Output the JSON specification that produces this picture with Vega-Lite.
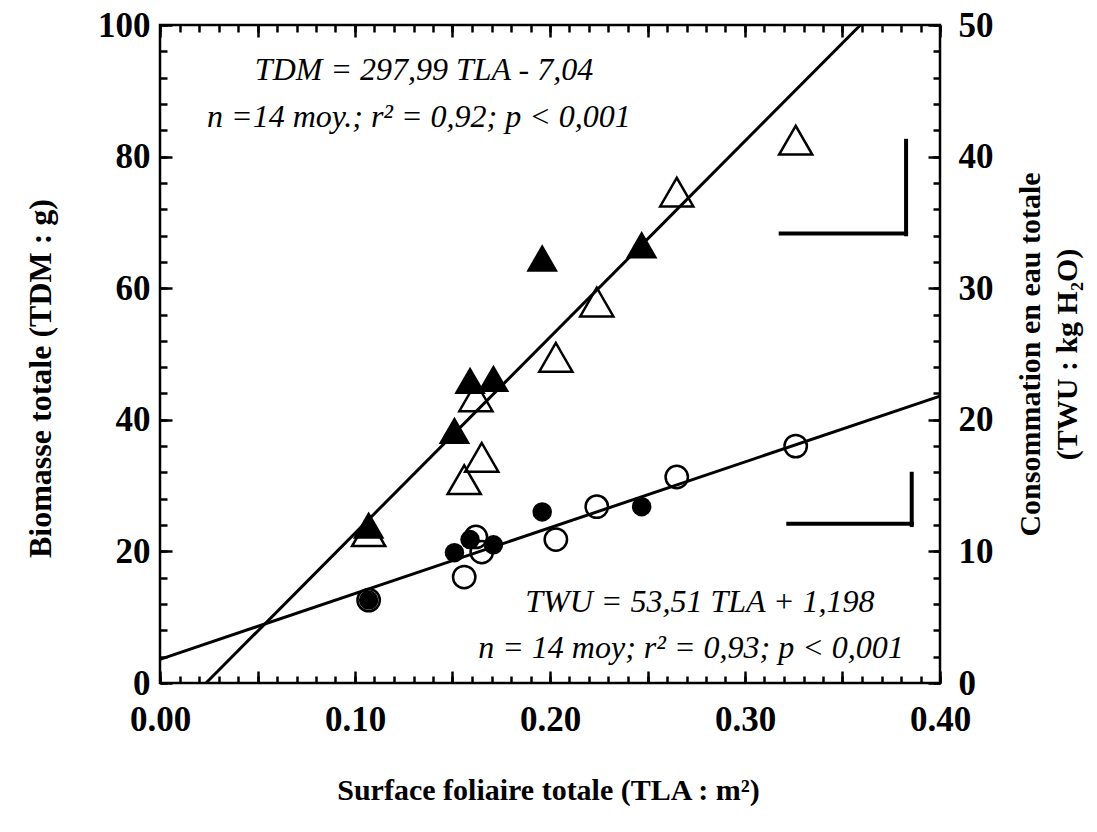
{
  "$schema": "https://vega.github.io/schema/vega-lite/v6.json",
  "width": 780,
  "height": 658,
  "autosize": "none",
  "padding": {"left": 160, "top": 25, "right": 157, "bottom": 149},
  "background": "white",
  "config": {
    "view": {"stroke": "black", "strokeWidth": 2.5},
    "axis": {
      "grid": false,
      "domain": false,
      "ticks": true,
      "labelFont": "Liberation Serif",
      "titleFont": "Liberation Serif",
      "labelFontWeight": "bold",
      "titleFontWeight": "bold",
      "labelColor": "black",
      "titleColor": "black",
      "tickColor": "black",
      "tickOpacity": 1,
      "tickWidth": 2.5,
      "labelFontSize": 35,
      "titleFontSize": 32,
      "labelFlush": false
    }
  },
  "datasets": {
    "points": [
      {"TLA": 0.107, "TDM": 24.0, "TWU": 6.3, "traitement": "A"},
      {"TLA": 0.151, "TDM": 38.4, "TWU": 9.9, "traitement": "A"},
      {"TLA": 0.159, "TDM": 46.0, "TWU": 10.9, "traitement": "A"},
      {"TLA": 0.171, "TDM": 46.3, "TWU": 10.5, "traitement": "A"},
      {"TLA": 0.196, "TDM": 64.6, "TWU": 13.0, "traitement": "A"},
      {"TLA": 0.247, "TDM": 66.6, "TWU": 13.4, "traitement": "A"},
      {"TLA": 0.107, "TDM": 23.0, "TWU": 6.3, "traitement": "B"},
      {"TLA": 0.156, "TDM": 30.9, "TWU": 8.05, "traitement": "B"},
      {"TLA": 0.162, "TDM": 43.5, "TWU": 11.1, "traitement": "B"},
      {"TLA": 0.165, "TDM": 34.3, "TWU": 9.95, "traitement": "B"},
      {"TLA": 0.203, "TDM": 49.5, "TWU": 10.9, "traitement": "B"},
      {"TLA": 0.224, "TDM": 57.9, "TWU": 13.4, "traitement": "B"},
      {"TLA": 0.265, "TDM": 74.6, "TWU": 15.65, "traitement": "B"},
      {"TLA": 0.326, "TDM": 82.5, "TWU": 18.0, "traitement": "B"}
    ],
    "droite_tdm": [{"TLA": 0.0236, "TDM": 0}, {"TLA": 0.3592, "TDM": 100}],
    "droite_twu": [{"TLA": 0.0, "TWU": 1.8}, {"TLA": 0.4, "TWU": 21.8}],
    "barres_tdm": [
      {"TLA": 0.3183, "TLA2": 0.3826, "TDM": 68.3, "TDM2": 68.3},
      {"TLA": 0.3826, "TLA2": 0.3826, "TDM": 68.2, "TDM2": 82.4}
    ],
    "barres_twu": [
      {"TLA": 0.3222, "TLA2": 0.3855, "TWU": 12.1, "TWU2": 12.1},
      {"TLA": 0.3855, "TLA2": 0.3855, "TWU": 12.0, "TWU2": 15.9}
    ],
    "textes": [
      {"label": "TDM = 297,99 TLA - 7,04", "TLA": 0.1354, "TDM": 93.2},
      {"label": "n =14 moy.; r² = 0,92; p < 0,001", "TLA": 0.1328, "TDM": 86.0},
      {"label": "TWU = 53,51 TLA + 1,198", "TLA": 0.2769, "TDM": 12.3},
      {"label": "n = 14 moy; r² = 0,93; p < 0,001", "TLA": 0.2723, "TDM": 5.3}
    ]
  },
  "layer": [
    {
      "data": {"name": "droite_tdm"},
      "mark": {"type": "line", "color": "black", "strokeWidth": 3},
      "encoding": {
        "x": {"field": "TLA", "type": "quantitative", "scale": {"domain": [0, 0.4], "nice": false, "zero": false},
          "axis": {"orient": "bottom", "values": [0,0.01,0.02,0.03,0.04,0.05,0.06,0.07,0.08,0.09,0.1,0.11,0.12,0.13,0.14,0.15,0.16,0.17,0.18,0.19,0.2,0.21,0.22,0.23,0.24,0.25,0.26,0.27,0.28,0.29,0.3,0.31,0.32,0.33,0.34,0.35,0.36,0.37,0.38,0.39,0.4], "offset": -7, "tickSize": 7, "labels": false, "title": null}},
        "y": {"field": "TDM", "type": "quantitative", "scale": {"domain": [0, 100], "nice": false},
          "axis": {"orient": "left", "values": [0,4,8,12,16,20,24,28,32,36,40,44,48,52,56,60,64,68,72,76,80,84,88,92,96,100], "offset": -7, "tickSize": 7, "labels": false, "title": null}}
      }
    },
    {
      "data": {"name": "points"},
      "transform": [{"filter": "datum.traitement == 'B'"}],
      "mark": {"type": "point", "shape": "triangle-up", "filled": false, "stroke": "black", "strokeWidth": 2.5, "size": 1100, "opacity": 1},
      "encoding": {
        "x": {"field": "TLA", "type": "quantitative", "scale": {"domain": [0, 0.4], "nice": false, "zero": false},
          "axis": {"orient": "bottom", "values": [0,0.05,0.1,0.15,0.2,0.25,0.3,0.35,0.4], "offset": -12, "tickSize": 12,
            "labelExpr": "abs(round(datum.value*100) % 10) == 0 ? format(datum.value, '.2f') : ''",
            "labelPadding": 19, "labelBaseline": "top",
            "title": "Surface foliaire totale (TLA : m²)", "titleFontSize": 30, "titleX": 388, "titleY": 119, "titleBaseline": "middle", "titleAlign": "center"}},
        "y": {"field": "TDM", "type": "quantitative", "scale": {"domain": [0, 100], "nice": false},
          "axis": {"orient": "left", "values": [0,20,40,60,80,100], "offset": -12, "tickSize": 12, "labelPadding": 10,
            "title": "Biomasse totale (TDM : g)", "titleX": -132, "titleY": 353, "titleAngle": 270, "titleBaseline": "middle", "titleAlign": "center"}}
      }
    },
    {
      "data": {"name": "points"},
      "transform": [{"filter": "datum.traitement == 'A'"}],
      "mark": {"type": "point", "shape": "triangle-up", "filled": true, "fill": "black", "strokeWidth": 0, "size": 1000, "opacity": 1},
      "encoding": {
        "x": {"field": "TLA", "type": "quantitative", "scale": {"domain": [0, 0.4], "nice": false, "zero": false}, "axis": null},
        "y": {"field": "TDM", "type": "quantitative", "scale": {"domain": [0, 100], "nice": false}, "axis": null}
      }
    },
    {
      "data": {"name": "barres_tdm"},
      "mark": {"type": "rule", "color": "black", "strokeWidth": 4, "strokeCap": "square"},
      "encoding": {
        "x": {"field": "TLA", "type": "quantitative", "scale": {"domain": [0, 0.4], "nice": false, "zero": false}, "axis": null},
        "x2": {"field": "TLA2"},
        "y": {"field": "TDM", "type": "quantitative", "scale": {"domain": [0, 100], "nice": false}, "axis": null},
        "y2": {"field": "TDM2"}
      }
    },
    {
      "data": {"name": "textes"},
      "mark": {"type": "text", "font": "Liberation Serif", "fontStyle": "italic", "fontSize": 32, "align": "center", "baseline": "middle", "color": "black"},
      "encoding": {
        "text": {"field": "label"},
        "x": {"field": "TLA", "type": "quantitative", "scale": {"domain": [0, 0.4], "nice": false, "zero": false}, "axis": null},
        "y": {"field": "TDM", "type": "quantitative", "scale": {"domain": [0, 100], "nice": false}, "axis": null}
      }
    },
    {
      "data": {"name": "droite_twu"},
      "mark": {"type": "line", "color": "black", "strokeWidth": 3},
      "encoding": {
        "x": {"field": "TLA", "type": "quantitative", "scale": {"domain": [0, 0.4], "nice": false, "zero": false},
          "axis": {"orient": "top", "values": [0,0.01,0.02,0.03,0.04,0.05,0.06,0.07,0.08,0.09,0.1,0.11,0.12,0.13,0.14,0.15,0.16,0.17,0.18,0.19,0.2,0.21,0.22,0.23,0.24,0.25,0.26,0.27,0.28,0.29,0.3,0.31,0.32,0.33,0.34,0.35,0.36,0.37,0.38,0.39,0.4], "offset": -7, "tickSize": 7, "labels": false, "title": null}},
        "y": {"field": "TWU", "type": "quantitative", "scale": {"domain": [0, 50], "nice": false},
          "axis": {"orient": "right", "values": [0,2,4,6,8,10,12,14,16,18,20,22,24,26,28,30,32,34,36,38,40,42,44,46,48,50], "offset": -7, "tickSize": 7, "labels": false, "title": null}}
      }
    },
    {
      "data": {"name": "points"},
      "transform": [{"filter": "datum.traitement == 'B'"}],
      "mark": {"type": "point", "shape": "circle", "filled": false, "stroke": "black", "strokeWidth": 2.5, "size": 500, "opacity": 1},
      "encoding": {
        "x": {"field": "TLA", "type": "quantitative", "scale": {"domain": [0, 0.4], "nice": false, "zero": false},
          "axis": {"orient": "top", "values": [0,0.05,0.1,0.15,0.2,0.25,0.3,0.35,0.4], "offset": -12, "tickSize": 12, "labels": false, "title": null}},
        "y": {"field": "TWU", "type": "quantitative", "scale": {"domain": [0, 50], "nice": false},
          "axis": {"orient": "right", "values": [0,10,20,30,40,50], "offset": -12, "tickSize": 12, "labelPadding": 18,
            "title": ["Consommation en eau totale", "(TWU : kg H₂O)"], "titleFontSize": 30, "titleX": 102, "titleY": 329, "titleAngle": 270, "titleBaseline": "middle", "titleAlign": "center", "titleLineHeight": 37}}
      }
    },
    {
      "data": {"name": "points"},
      "transform": [{"filter": "datum.traitement == 'A'"}],
      "mark": {"type": "point", "shape": "circle", "filled": true, "fill": "black", "strokeWidth": 0, "size": 380, "opacity": 1},
      "encoding": {
        "x": {"field": "TLA", "type": "quantitative", "scale": {"domain": [0, 0.4], "nice": false, "zero": false}, "axis": null},
        "y": {"field": "TWU", "type": "quantitative", "scale": {"domain": [0, 50], "nice": false}, "axis": null}
      }
    },
    {
      "data": {"name": "barres_twu"},
      "mark": {"type": "rule", "color": "black", "strokeWidth": 4, "strokeCap": "square"},
      "encoding": {
        "x": {"field": "TLA", "type": "quantitative", "scale": {"domain": [0, 0.4], "nice": false, "zero": false}, "axis": null},
        "x2": {"field": "TLA2"},
        "y": {"field": "TWU", "type": "quantitative", "scale": {"domain": [0, 50], "nice": false}, "axis": null},
        "y2": {"field": "TWU2"}
      }
    }
  ],
  "resolve": {"scale": {"y": "independent"}, "axis": {"x": "independent", "y": "independent"}}
}
